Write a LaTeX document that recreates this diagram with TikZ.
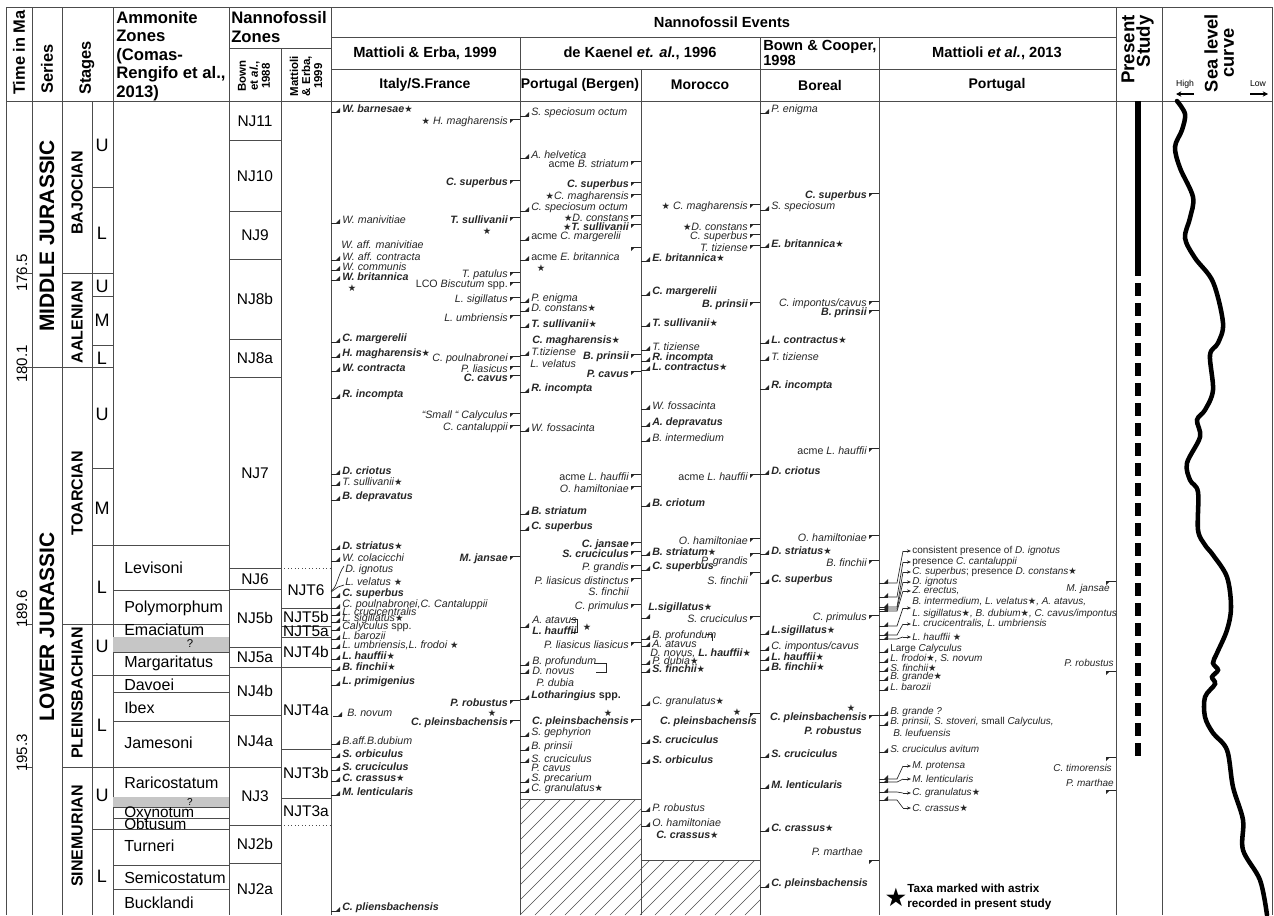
\documentclass[tikz,border=0pt]{standalone}
\usepackage{fontspec}
\setmainfont{Liberation Sans}
\newfontfamily\starfont{DejaVu Sans}
\usetikzlibrary{arrows.meta}
\newcounter{lbl}
\newcommand\labfont{\fontsize{8}{8.5}\selectfont\itshape}
\tikzset{
  grid/.style={line width=0.6pt,draw=black!70},
  mkline/.style={line width=0.5pt,draw=black!85},
  lab/.style={inner sep=0pt,font=\labfont,text=black!85},
  hdr/.style={inner sep=0pt,font=\bfseries\fontsize{11}{12}\selectfont},
  amm/.style={inner sep=0pt,anchor=west,font=\fontsize{12}{12}\selectfont},
  nz/.style={inner sep=0pt,font=\fontsize{11.6}{12}\selectfont},
  sub/.style={inner sep=0pt,font=\fontsize{13.5}{14}\selectfont},
  stg/.style={inner sep=0pt,rotate=90,font=\bfseries\fontsize{12}{12}\selectfont},
  vhd/.style={inner sep=0pt,rotate=90,anchor=east,font=\bfseries\fontsize{14}{14}\selectfont},
}
\newcommand\st{{\starfont\upshape\fontsize{7}{7}\selectfont ★}}
\newcommand\bi[1]{{\bfseries #1}}
\newcommand\mkl[2]{\draw[mkline] (#1,#2) -- ++(9,0); \fill[black!85] (#1+5,#2) -- (#1+9,#2) -- (#1+9,#2-4) -- cycle;}
\newcommand\mkr[2]{\draw[mkline] (#1,#2) -- ++(-10,0); \fill[black!85] (#1-10,#2) -- (#1-6,#2) -- (#1-10,#2+4) -- cycle;}
\newcommand\TXl[3]{\stepcounter{lbl}\node[lab,anchor=west] (n\arabic{lbl}) at (#1,#2) {#3};}
\newcommand\TXr[3]{\stepcounter{lbl}\node[lab,anchor=east] (n\arabic{lbl}) at (#1,#2) {#3};}
\newcommand\STn[2]{\stepcounter{lbl}\node[lab] (n\arabic{lbl}) at (#1,#2) {\st};}
\newcommand\FOm[3]{\mkl{#1}{#2+3}\TXl{#1+11}{#2}{#3}}
\newcommand\LOm[3]{\mkr{#1}{#2-3}\TXr{#1-12}{#2}{#3}}
\newcommand\ARl[3]{\mkl{879}{#2}%
  \draw[mkline] (888,#2) -- (897,#2) -- (903,#1);%
  \draw[mkline,-{Stealth[length=3pt,width=2.4pt]}] (903,#1) -- (911,#1);%
  \TXl{912}{#1}{#3}}
\begin{document}
\begin{tikzpicture}[x=0.75pt,y=-0.75pt]
\fill[white] (0,0) rectangle (1274,915);
\useasboundingbox (0,0) rectangle (1274,915);

% ---------- grid ----------
\foreach \x in {6,32,62,113,229,331,1116,1162,1272} \draw[grid] (\x,7) -- (\x,915);
\draw[grid] (92,101) -- (92,915);
\draw[grid] (281,48) -- (281,915);
\draw[grid] (520,37) -- (520,915);
\draw[grid] (641,69) -- (641,915);
\draw[grid] (760,37) -- (760,915);
\draw[grid] (879,37) -- (879,915);
\draw[grid] (6,7) -- (1272,7);
\draw[grid] (6,101) -- (1272,101);
\draw[grid] (331,37) -- (1116,37);
\draw[grid] (331,69) -- (1116,69);
\draw[grid] (229,48) -- (331,48);

% time ticks and boundaries
\draw[grid] (26,273) -- (32,273);
\draw[grid] (26,367) -- (113,367);
\draw[grid] (26,624) -- (32,624);
\draw[grid] (26,767) -- (32,767);
\draw[grid] (62,273) -- (113,273);
\foreach \y in {624,767} \draw[grid] (62,\y) -- (229,\y);
\foreach \y in {545,675,829} \draw[grid] (92,\y) -- (229,\y);
\foreach \y in {187,296,345,468} \draw[grid] (92,\y) -- (113,\y);
\foreach \y in {590,637,652,692,721,797,807,818,865,889} \draw[grid] (113,\y) -- (229,\y);
\fill[gray!45] (113.3,637.4) rectangle (228.7,651.6);
\fill[gray!45] (113.3,797.4) rectangle (228.7,806.6);
% nanno zones
\foreach \y in {140,211,259,339,377,568,589,647,715,767,825,863} \draw[grid] (229,\y) -- (281,\y);
\draw[grid] (229,667) -- (331,667);
\foreach \y in {608,626,637,749,798} \draw[grid] (281,\y) -- (331,\y);
\draw[grid,dotted] (281,568) -- (331,568);
\draw[grid,dotted] (281,825) -- (331,825);

% hatched areas
\draw[grid] (520,799) -- (641,799);
\draw[grid] (641,860) -- (760,860);
\begin{scope}
\clip (520,799) rectangle (641,915);
\foreach \i in {0,...,17} \draw[line width=0.4pt,black!70] (400+\i*15,915) -- ++(130,-130);
\end{scope}
\begin{scope}
\clip (641,860) rectangle (760,915);
\foreach \i in {0,...,13} \draw[line width=0.4pt,black!70] (580+\i*15,915) -- ++(70,-70);
\end{scope}

% ---------- headers ----------
\node[inner sep=0pt,rotate=90,anchor=west,font=\bfseries\fontsize{12.3}{13}\selectfont] (hTime) at (19,95) {Time in Ma};
\node[inner sep=0pt,rotate=90,anchor=west,font=\bfseries\fontsize{12.3}{13}\selectfont] (hSer) at (47,94) {Series};
\node[inner sep=0pt,rotate=90,anchor=west,font=\bfseries\fontsize{12.3}{13}\selectfont] (hStg) at (87,95) {Stages};
\node[inner sep=0pt,anchor=north west,align=left,font=\bfseries\fontsize{12.5}{13.9}\selectfont] (hAmm) at (116,11) {Ammonite\\Zones\\(Comas-\\Rengifo et al.,\\2013)};
\node[inner sep=0pt,anchor=north west,align=left,font=\bfseries\fontsize{12.5}{14.2}\selectfont] (hNZ) at (231,11) {Nannofossil\\Zones};
\node[inner sep=0pt,rotate=90,align=center,font=\bfseries\fontsize{8.6}{9}\selectfont] (hBown) at (254,76) {Bown\\et \textit{al.},\\1988};
\node[inner sep=0pt,rotate=90,align=center,font=\bfseries\fontsize{8.6}{9}\selectfont] (hME) at (306,76) {Mattioli\\\& Erba,\\1999};
\node[hdr] (hEv) at (722,22) {Nannofossil Events};
\node[hdr] (hA1) at (425,53) {Mattioli \& Erba, 1999};
\node[hdr] (hA2) at (640,53) {de Kaenel \textit{et. al.}, 1996};
\node[hdr,anchor=north west,align=left,font=\bfseries\fontsize{11}{11.5}\selectfont] (hA3) at (763,40) {Bown \& Cooper,\\1998};
\node[hdr] (hA4) at (997,53) {Mattioli \textit{et al.}, 2013};
\node[hdr,font=\bfseries\fontsize{10.5}{11}\selectfont] (hR1) at (425,85) {Italy/S.France};
\node[hdr,font=\bfseries\fontsize{10.5}{11}\selectfont] (hR2) at (580,85) {Portugal (Bergen)};
\node[hdr,font=\bfseries\fontsize{10.5}{11}\selectfont] (hR3) at (700,85) {Morocco};
\node[hdr,font=\bfseries\fontsize{10.5}{11}\selectfont] (hR4) at (820,85) {Boreal};
\node[hdr,font=\bfseries\fontsize{10.5}{11}\selectfont] (hR5) at (997,85) {Portugal};
\node[vhd] (hPS1) at (1128,15) {Present};
\node[vhd] (hPS2) at (1145,15) {Study};
\node[inner sep=0pt,rotate=90,font=\bfseries\fontsize{13.7}{14}\selectfont] (hSL1) at (1211,53) {Sea level};
\node[inner sep=0pt,rotate=90,font=\bfseries\fontsize{13.7}{14}\selectfont] (hSL2) at (1229,53) {curve};
\node[inner sep=0pt,font=\fontsize{6.5}{7}\selectfont] (hHi) at (1185,84) {High};
\node[inner sep=0pt,font=\fontsize{6.5}{7}\selectfont] (hLo) at (1258,84) {Low};
\coordinate (hiA) at (1194,94); \coordinate (hiB) at (1176,94);
\coordinate (loA) at (1250,94); \coordinate (loB) at (1268,94);
\draw[line width=0.8pt,-{Stealth[length=4pt,width=4pt]}] (hiA) -- (hiB);
\draw[line width=0.8pt,-{Stealth[length=4pt,width=4pt]}] (loA) -- (loB);

% ---------- time / series / stages ----------
\node[inner sep=0pt,rotate=90,font=\fontsize{11.3}{12}\selectfont] (t1) at (22,273) {176.5};
\node[inner sep=0pt,rotate=90,font=\fontsize{11.3}{12}\selectfont] (t2) at (22,364) {180.1};
\node[inner sep=0pt,rotate=90,font=\fontsize{11.3}{12}\selectfont] (t3) at (22,609) {189.6};
\node[inner sep=0pt,rotate=90,font=\fontsize{11.3}{12}\selectfont] (t4) at (22,753) {195.3};
\node[inner sep=0pt,rotate=90,font=\bfseries\fontsize{15.7}{16}\selectfont] (sMid) at (47,236) {MIDDLE JURASSIC};
\node[inner sep=0pt,rotate=90,font=\bfseries\fontsize{15.7}{16}\selectfont] (sLow) at (47,627) {LOWER JURASSIC};
\node[stg] (gBaj) at (77,193) {BAJOCIAN};
\node[stg] (gAal) at (77,322) {AALENIAN};
\node[stg] (gToa) at (77,493) {TOARCIAN};
\node[stg] (gPli) at (77,693) {PLEINSBACHIAN};
\node[stg] (gSin) at (77,836) {SINEMURIAN};
\node[sub] (u1) at (102,145) {U};
\node[sub] (u2) at (102,233) {L};
\node[sub] (u3) at (102,286) {U};
\node[sub] (u4) at (102,320) {M};
\node[sub] (u5) at (102,358) {L};
\node[sub] (u6) at (102,414) {U};
\node[sub] (u7) at (102,508) {M};
\node[sub] (u8) at (102,587) {L};
\node[sub] (u9) at (102,646) {U};
\node[sub] (u10) at (102,725) {L};
\node[sub] (u11) at (102,795) {U};
\node[sub] (u12) at (102,876) {L};

% ammonite zones
\node[amm] (a1) at (124,568) {Levisoni};
\node[amm] (a2) at (124,608) {Polymorphum};
\node[amm] (a3) at (124,630) {Emaciatum};
\node[inner sep=0pt,font=\fontsize{8.5}{9}\selectfont] (a4) at (190,644) {?};
\node[amm] (a5) at (124,663) {Margaritatus};
\node[amm] (a6) at (124,685) {Davoei};
\node[amm] (a7) at (124,708) {Ibex};
\node[amm] (a8) at (124,743) {Jamesoni};
\node[amm] (a9) at (124,783) {Raricostatum};
\node[inner sep=0pt,font=\fontsize{7.5}{8}\selectfont] (a10) at (190,801.5) {?};
\node[amm,font=\fontsize{11.5}{12}\selectfont] (a11) at (124,813.5) {Oxynotum};
\node[amm,font=\fontsize{11.5}{12}\selectfont] (a12) at (124,824.5) {Obtusum};
\node[amm] (a13) at (124,846) {Turneri};
\node[amm] (a14) at (124,878) {Semicostatum};
\node[amm] (a15) at (124,903) {Bucklandi};

% nannofossil zones
\node[nz] (z1) at (255,121) {NJ11};
\node[nz] (z2) at (255,176) {NJ10};
\node[nz] (z3) at (255,235) {NJ9};
\node[nz] (z4) at (255,299) {NJ8b};
\node[nz] (z5) at (255,358) {NJ8a};
\node[nz] (z6) at (255,473) {NJ7};
\node[nz] (z7) at (255,579) {NJ6};
\node[nz] (z8) at (255,618) {NJ5b};
\node[nz] (z9) at (255,657) {NJ5a};
\node[nz] (z10) at (255,691) {NJ4b};
\node[nz] (z11) at (255,741) {NJ4a};
\node[nz] (z12) at (255,796) {NJ3};
\node[nz] (z13) at (255,844) {NJ2b};
\node[nz] (z14) at (255,889) {NJ2a};
\node[nz] (y1) at (306,590) {NJT6};
\node[nz] (y2) at (306,617) {NJT5b};
\node[nz] (y3) at (306,631) {NJT5a};
\node[nz] (y4) at (306,652) {NJT4b};
\node[nz] (y5) at (306,710) {NJT4a};
\node[nz] (y6) at (306,773) {NJT3b};
\node[nz] (y7) at (306,811) {NJT3a};

% ---------- Italy / S. France ----------
\FOm{331}{109}{\bi{W. barnesae\st}}
\LOm{520}{122}{\st\ H. magharensis}
\LOm{520}{183}{\bi{C. superbus}}
\FOm{331}{220}{W. manivitiae}
\LOm{520}{220}{\bi{T. sullivanii}}
\STn{487}{231}
\TXl{341}{245}{W. aff. manivitiae}
\FOm{331}{257}{W. aff. contracta}
\FOm{331}{267}{W. communis}
\FOm{331}{277}{\bi{W. britannica}}
\STn{352}{288}
\LOm{520}{275}{T. patulus}
\LOm{520}{285}{{\upshape LCO} Biscutum {\upshape spp.}}
\LOm{520}{300}{L. sigillatus}
\LOm{520}{318}{L. umbriensis}
\FOm{331}{339}{\bi{C. margerelii}}
\FOm{331}{354}{\bi{H. magharensis}\st}
\FOm{331}{368}{\bi{W. contracta}}
\LOm{520}{359}{C. poulnabronei}
\LOm{520}{369}{P. liasicus}
\LOm{520}{378}{\bi{C. cavus}}
\FOm{331}{395}{\bi{R. incompta}}
\LOm{520}{416}{“Small “ Calyculus}
\LOm{520}{428}{C. cantaluppii}
\FOm{331}{471}{\bi{D. criotus}}
\FOm{331}{482}{T. sullivanii\st}
\FOm{331}{497}{\bi{B. depravatus}}
\FOm{331}{546}{\bi{D. striatus}\st}
\FOm{331}{558}{W. colacicchi}
\LOm{520}{559}{\bi{M. jansae}}
\draw[mkline] (331,591) .. controls (337,588) and (338,574) .. (344,566);
\TXl{345}{570}{D. ignotus}
\draw[mkline] (331,592) -- (338,587) -- (344,585);
\TXl{345}{582}{L. velatus \st}
\FOm{331}{594}{\bi{C. superbus}}
\FOm{331}{605}{C. poulnabronei,C. Cantaluppii}
\FOm{331}{612}{L. crucicentralis}
\FOm{331}{619}{L. sigillatus\st}
\FOm{331}{627}{Calyculus {\upshape spp.}}
\FOm{331}{636}{L. barozii}
\FOm{331}{645}{L. umbriensis,L. frodoi \st}
\FOm{331}{656}{\bi{L. hauffii}\st}
\FOm{331}{667}{\bi{B. finchii}\st}
\FOm{331}{682}{\bi{L. primigenius}}
\LOm{520}{703}{\bi{P. robustus}}
\mkl{333}{716}\TXl{347}{713}{B. novum}
\STn{492}{713}
\LOm{520}{723}{\bi{C. pleinsbachensis}}
\FOm{331}{741}{B.aff.B.dubium}
\FOm{331}{754}{\bi{S. orbiculus}}
\FOm{331}{767}{\bi{S. cruciculus}}
\FOm{331}{778}{\bi{C. crassus}\st}
\FOm{331}{792}{\bi{M. lenticularis}}
\FOm{331}{908}{\bi{C. pliensbachensis}}

% ---------- Portugal (Bergen) ----------
\FOm{520}{113}{S. speciosum octum}
\FOm{520}{155}{A. helvetica}
\LOm{641}{164}{{\upshape acme} B. striatum}
\LOm{641}{185}{\bi{C. superbus}}
\LOm{641}{197}{\st C. magharensis}
\FOm{520}{208}{C. speciosum octum}
\LOm{641}{218}{\st D. constans}
\LOm{641}{227}{\bi{\st T. sullivanii}}
\FOm{520}{237}{{\upshape acme} C. margerelii}
\mkr{641}{247}
\FOm{520}{257}{{\upshape acme} E. britannica}
\STn{541}{268}
\FOm{520}{299}{P. enigma}
\FOm{520}{308}{D. constans\st}
\FOm{520}{324}{\bi{T. sullivanii}\st}
\TXl{532}{341}{\bi{C. magharensis}\st}
\FOm{520}{352}{T.tiziense}
\LOm{641}{357}{\bi{B. prinsii}}
\TXl{530}{364}{L. velatus}
\LOm{641}{374}{\bi{P. cavus}}
\FOm{520}{389}{\bi{R. incompta}}
\FOm{520}{428}{W. fossacinta}
\LOm{641}{477}{{\upshape acme} L. hauffii}
\LOm{641}{489}{O. hamiltoniae}
\FOm{520}{511}{\bi{B. striatum}}
\FOm{520}{527}{\bi{C. superbus}}
\LOm{641}{545}{\bi{C. jansae}}
\LOm{641}{554}{\bi{S. cruciculus}}
\LOm{641}{568}{P. grandis}
\LOm{641}{581}{P. liasicus distinctus}
\TXr{629}{592}{S. finchii}
\LOm{641}{607}{C. primulus}
\mkl{520}{627}
\TXl{532}{620}{A. atavus}
\TXl{532}{631}{\bi{L. hauffii}}
\draw[mkline] (571,619) -- (577,619) -- (577,632) -- (572,632);
\STn{587}{627}
\LOm{641}{645}{P. liasicus liasicus}
\mkl{520}{665}\mkl{520}{673}
\TXl{532}{662}{B. profundum}
\TXl{532}{671}{D. novus}
\draw[mkline] (594,663) -- (606,663) -- (606,672) -- (596,672);
\TXl{536}{683}{P. dubia}
\FOm{520}{696}{\bi{Lotharingius \upshape spp.}}
\STn{608}{713}
\LOm{641}{722}{\bi{C. pleinsbachensis}}
\FOm{520}{733}{S. gephyrion}
\FOm{520}{747}{B. prinsii}
\FOm{520}{759}{S. cruciculus}
\TXl{531}{768}{P. cavus}
\FOm{520}{779}{S. precarium}
\FOm{520}{789}{C. granulatus\st}

% ---------- Morocco ----------
\LOm{760}{207}{\st\ C. magharensis}
\LOm{760}{227}{\st D. constans}
\LOm{760}{237}{C. superbus}
\LOm{760}{248}{T. tiziense}
\FOm{641}{258}{\bi{E. britannica}\st}
\FOm{641}{292}{\bi{C. margerelii}}
\LOm{760}{305}{\bi{B. prinsii}}
\FOm{641}{323}{\bi{T. sullivanii}\st}
\FOm{641}{347}{T. tiziense}
\FOm{641}{358}{\bi{R. incompta}}
\FOm{641}{367}{\bi{L. contractus}\st}
\FOm{641}{406}{W. fossacinta}
\FOm{641}{423}{\bi{A. depravatus}}
\FOm{641}{438}{B. intermedium}
\LOm{760}{477}{{\upshape acme} L. hauffii}
\FOm{641}{503}{\bi{B. criotum}}
\LOm{760}{541}{O. hamiltoniae}
\FOm{641}{552}{\bi{B. striatum}\st}
\mkr{760}{553}\TXr{748}{562}{P. grandis}
\FOm{641}{567}{\bi{C. superbus}}
\mkr{760}{572}\TXr{748}{581}{S. finchii}
\TXl{648}{608}{\bi{L.sigillatus}\st}
\mkl{641}{618}
\LOm{760}{619}{S. cruciculus}
\mkl{641}{639}\mkl{641}{646}
\TXl{652}{636}{B. profundum}
\TXl{652}{644}{A. atavus}
\draw[mkline] (706,634) -- (712,634) -- (712,641);
\TXl{650}{653}{D. novus, \bi{L. hauffii}\st}
\FOm{641}{661}{P. dubia\st}
\FOm{641}{669}{\bi{S. finchii}\st}
\FOm{641}{702}{C. granulatus\st}
\mkr{760}{713}\STn{737}{712}
\TXr{757}{722}{\bi{C. pleinsbachensis}}
\FOm{641}{740}{\bi{S. cruciculus}}
\FOm{641}{760}{\bi{S. orbiculus}}
\FOm{641}{808}{P. robustus}
\FOm{641}{823}{O. hamiltoniae}
\TXl{656}{835}{\bi{C. crassus}\st}

% ---------- Boreal ----------
\FOm{760}{110}{P. enigma}
\LOm{879}{196}{\bi{C. superbus}}
\FOm{760}{207}{S. speciosum}
\FOm{760}{244}{\bi{E. britannica}\st}
\LOm{879}{304}{C. impontus/cavus}
\LOm{879}{313}{\bi{B. prinsii}}
\FOm{760}{340}{\bi{L. contractus}\st}
\FOm{760}{357}{T. tiziense}
\FOm{760}{386}{\bi{R. incompta}}
\LOm{879}{451}{{\upshape acme} L. hauffii}
\FOm{760}{471}{\bi{D. criotus}}
\LOm{879}{538}{O. hamiltoniae}
\FOm{760}{551}{\bi{D. striatus}\st}
\LOm{879}{563}{B. finchii}
\FOm{760}{580}{\bi{C. superbus}}
\LOm{879}{618}{C. primulus}
\FOm{760}{631}{\bi{L.sigillatus}\st}
\FOm{760}{647}{C. impontus/cavus}
\FOm{760}{657}{\bi{L. hauffii}\st}
\FOm{760}{667}{\bi{B. finchii}\st}
\STn{851}{708}
\LOm{879}{718}{\bi{C. pleinsbachensis}}
\TXr{862}{731}{\bi{P. robustus}}
\FOm{760}{754}{\bi{S. cruciculus}}
\FOm{760}{785}{\bi{M. lenticularis}}
\FOm{760}{828}{\bi{C. crassus}\st}
\mkr{879}{860}\TXr{863}{852}{P. marthae}
\FOm{760}{884}{\bi{C. pleinsbachensis}}

% ---------- Portugal (Mattioli et al. 2013) ----------
\renewcommand\labfont{\fontsize{7.5}{8}\selectfont\itshape}
\ARl{551}{583}{{\upshape consistent presence of} D. ignotus}
\ARl{562}{597}{{\upshape presence} C. cantaluppii}
\ARl{572}{607}{C. superbus{\upshape ; presence} D. constans\st}
\ARl{582}{609}{D. ignotus}
\ARl{591}{611}{Z. erectus,}
\ARl{608}{626}{}
\TXl{912}{602}{B. intermedium, L. velatus\st, A. atavus,}
\TXl{912}{614}{L. sigillatus\st, B. dubium\st, C. cavus/impontus}
\ARl{624}{635}{L. crucicentralis, L. umbriensis}
\ARl{637}{639}{L. hauffii \st}
\FOm{879}{649}{{\upshape Large} Calyculus}
\FOm{879}{659}{L. frodoi\st, S. novum}
\FOm{879}{668}{S. finchii\st}
\FOm{879}{677}{B. grande\st}
\FOm{879}{687}{L. barozii}
\FOm{879}{712}{B. grande ?}
\FOm{879}{722}{B. prinsii, S. stoveri, {\upshape small} Calyculus,}
\TXl{893}{733}{B. leufuensis}
\FOm{879}{749}{S. cruciculus avitum}
\ARl{766}{779}{M. protensa}
\ARl{779}{782}{M. lenticularis}
\ARl{793}{792}{C. granulatus\st}
\ARl{808}{800}{C. crassus\st}
\mkr{1116}{581}\TXr{1110}{589}{M. jansae}
\mkr{1116}{671}\TXr{1114}{663}{P. robustus}
\mkr{1116}{757}\TXr{1112}{768}{C. timorensis}
\mkr{1116}{790}\TXr{1114}{783}{P. marthae}

% legend
\node[inner sep=0pt,font=\starfont\fontsize{19}{19}\selectfont] (lgS) at (896,897) {★};
\node[inner sep=0pt,anchor=west,align=left,font=\bfseries\fontsize{8.8}{11}\selectfont] (lgT) at (907,897) {Taxa marked with astrix\\recorded in present study};

% ---------- present study ----------
\coordinate (psA) at (1138,101); \coordinate (psB) at (1138,276);
\coordinate (psC) at (1138,283); \coordinate (psD) at (1138,762);
\draw[line width=5pt] (psA) -- (psB);
\draw[line width=5pt,dash pattern=on 9.75pt off 5.25pt] (psC) -- (psD);

% ---------- sea level curve ----------
\draw[line width=3.4pt,line cap=round] plot[smooth,tension=0.55] coordinates {
(1177,101) (1185,114) (1182,130) (1175,147) (1180,168) (1193,197) (1190,218) (1185,238)
(1195,258) (1213,282) (1223,323) (1218,343) (1210,355) (1213,390) (1205,410) (1197,420)
(1200,437) (1187,463) (1190,480) (1198,492) (1198,530) (1205,545) (1213,555) (1227,577)
(1231,607) (1227,630) (1217,653) (1213,663) (1218,670) (1212,677) (1215,684) (1205,697)
(1205,717) (1213,733) (1227,750) (1233,787) (1243,820) (1243,850) (1260,880) (1267,915)};
\end{tikzpicture}
\end{document}
